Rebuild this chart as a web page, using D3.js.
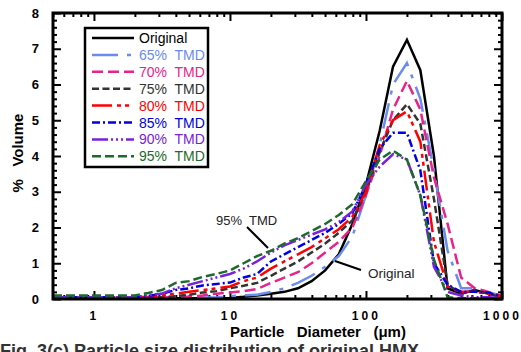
<!DOCTYPE html>
<html>
<head>
<meta charset="utf-8">
<script src="https://cdn.jsdelivr.net/npm/d3@7"></script>
<style>
  body { margin: 0; background: #fff; }
  text { font-family: "Liberation Sans", Arial, sans-serif; }
</style>
</head>
<body>
<script>
// particle size bins (um)
const diameters = [0.5, 0.63, 0.79, 1, 1.26, 1.58, 2, 2.51, 3.16, 3.98, 5.01, 6.31, 7.94,
  10, 12.6, 15.8, 20, 25.1, 31.6, 39.8, 50.1, 63.1, 79.4, 100, 126, 158, 200, 251, 316, 398,
  501, 631, 794, 1000]

const original = [0.02, 0.02, 0.02, 0.02, 0.02, 0.02, 0.02, 0.02, 0.02, 0.02, 0.02, 0.02, 0.02,
  0.03, 0.06, 0.1, 0.15, 0.2, 0.3, 0.5, 0.8, 1.25, 2.1, 3.2, 4.7, 6.5, 7.25, 6.4, 4.0, 0.3,
  0.15, 0.25, 0.15, 0.05]
const tmd65 = [0.04, 0.04, 0.04, 0.04, 0.04, 0.04, 0.04, 0.04, 0.04, 0.04, 0.04, 0.04, 0.04,
  0.08, 0.1, 0.12, 0.2, 0.3, 0.45, 0.65, 0.9, 1.2, 1.75, 2.9, 4.3, 6.0, 6.6, 5.6, 3.6, 1.35,
  0.3, 0.3, 0.2, 0.08]
const tmd70 = [0.05, 0.05, 0.05, 0.05, 0.05, 0.05, 0.05, 0.05, 0.05, 0.05, 0.07, 0.1, 0.15,
  0.18, 0.22, 0.28, 0.45, 0.6, 0.75, 1.0, 1.3, 1.6, 2.0, 2.9, 4.0, 5.3, 6.1, 5.3, 3.4, 2.1,
  0.6, 0.3, 0.2, 0.08]
const tmd75 = [0.05, 0.05, 0.05, 0.05, 0.05, 0.05, 0.05, 0.05, 0.05, 0.08, 0.12, 0.18, 0.22,
  0.3, 0.37, 0.45, 0.65, 0.85, 1.05, 1.3, 1.55, 1.85, 2.2, 3.0, 4.1, 5.0, 5.45, 4.9, 2.8, 0.4,
  0.15, 0.25, 0.15, 0.05]
const tmd80 = [0.05, 0.05, 0.05, 0.05, 0.05, 0.05, 0.05, 0.06, 0.1, 0.15, 0.2, 0.25, 0.3,
  0.35, 0.5, 0.6, 0.85, 1.05, 1.25, 1.45, 1.7, 1.95, 2.3, 3.0, 4.3, 5.0, 5.25, 4.4, 1.6, 0.35,
  0.2, 0.2, 0.15, 0.08]
const tmd85 = [0.05, 0.05, 0.05, 0.05, 0.05, 0.05, 0.05, 0.08, 0.15, 0.25, 0.3, 0.38, 0.42,
  0.46, 0.6, 0.7, 1.05, 1.25, 1.45, 1.65, 1.85, 2.1, 2.4, 3.2, 4.2, 4.65, 4.65, 3.6, 1.0, 0.4,
  0.2, 0.2, 0.18, 0.08]
const tmd90 = [0.05, 0.05, 0.05, 0.05, 0.05, 0.05, 0.05, 0.1, 0.15, 0.3, 0.4, 0.5, 0.6,
  0.7, 0.85, 1.05, 1.3, 1.5, 1.65, 1.8, 1.95, 2.15, 2.45, 3.2, 3.7, 4.05, 3.9, 2.9, 0.9, 0.2,
  0.1, 0.05, 0.05, 0.03]
const tmd95 = [0.1, 0.1, 0.1, 0.1, 0.1, 0.1, 0.1, 0.17, 0.25, 0.45, 0.5, 0.62, 0.7,
  0.8, 1.0, 1.2, 1.35, 1.55, 1.7, 1.9, 2.1, 2.35, 2.65, 3.3, 3.9, 4.15, 3.9, 2.9, 1.1, 0.05,
  0.02, 0.02, 0.02, 0.02]

const seriesNames = ['Original', '65%  TMD', '70%  TMD', '75%  TMD', '80%  TMD', '85%  TMD', '90%  TMD', '95%  TMD']
const seriesValues = [original, tmd65, tmd70, tmd75, tmd80, tmd85, tmd90, tmd95]

const xTicks = [1, 10, 100, 1000]
const yTicks = [0, 1, 2, 3, 4, 5, 6, 7, 8]

// styles
const colors = ['#000000', '#6a8cf0', '#e8238c', '#333333', '#ff0000', '#0000e0', '#7a22d8', '#1d6a2c']
const dashes = ['none', '26,9,4,9', '11,5', '7,3.5', '20,5,4,4,4,5', '8,3,2,3', '16,3,2,3,2,3,2,3', '9,4']

const plotLeft = 53, plotRight = 502, plotTop = 13, plotBottom = 299

const svg = d3.select('body').append('svg')
  .attr('width', 521)
  .attr('height', 352)

const x = d3.scaleLog().domain([0.5, 1000]).range([plotLeft, plotRight])
const y = d3.scaleLinear().domain([0, 8]).range([plotBottom, plotTop])

// minor tick values
const xMinor = []
for (const dec of [0.1, 1, 10, 100]) {
  for (let m = 2; m <= 9; m++) {
    const v = dec * m
    if (v >= 0.5 && v < 1000) xMinor.push(v)
  }
}
const yMinor = d3.range(0, 8.01, 0.2).filter(v => Math.abs(v - Math.round(v)) > 0.01)

function tickAxis(axisFn, scale, values, size, transform) {
  const g = svg.append('g')
    .attr('transform', transform)
    .call(axisFn(scale).tickValues(values).tickSizeInner(size).tickSizeOuter(0).tickFormat(''))
  g.select('.domain').remove()
  g.selectAll('line').attr('stroke', '#000').attr('stroke-width', 2)
  return g
}

// inward ticks on all four sides
tickAxis(d3.axisBottom, x, xTicks, -8, `translate(0,${plotBottom})`)
tickAxis(d3.axisBottom, x, xMinor, -4, `translate(0,${plotBottom})`)
tickAxis(d3.axisTop, x, xTicks, -8, `translate(0,${plotTop})`)
tickAxis(d3.axisTop, x, xMinor, -4, `translate(0,${plotTop})`)
tickAxis(d3.axisLeft, y, yTicks, -8, `translate(${plotLeft},0)`)
tickAxis(d3.axisLeft, y, yMinor, -4, `translate(${plotLeft},0)`)
tickAxis(d3.axisRight, y, yTicks, -8, `translate(${plotRight},0)`)
tickAxis(d3.axisRight, y, yMinor, -4, `translate(${plotRight},0)`)

// tick labels (spaced digits like the original)
svg.append('g').selectAll('text')
  .data(xTicks)
  .join('text')
  .attr('x', d => x(d) + 0.5)
  .attr('y', 320)
  .attr('text-anchor', 'middle')
  .attr('font-size', 12)
  .attr('font-weight', 'bold')
  .attr('letter-spacing', 3.1)
  .text(d => d)

svg.append('g').selectAll('text')
  .data(yTicks)
  .join('text')
  .attr('x', 39)
  .attr('y', d => y(d) + 4.5)
  .attr('text-anchor', 'end')
  .attr('font-size', 13)
  .attr('font-weight', 'bold')
  .text(d => d)

// lines
const line = d3.line()
  .x((d, i) => x(diameters[i]))
  .y(d => y(d))

svg.append('g').selectAll('path')
  .data(seriesValues)
  .join('path')
  .attr('d', d => line(d))
  .attr('fill', 'none')
  .attr('stroke', (d, i) => colors[i])
  .attr('stroke-width', 2.5)
  .attr('stroke-dasharray', (d, i) => dashes[i])

// frame
svg.append('rect')
  .attr('x', plotLeft)
  .attr('y', plotTop)
  .attr('width', plotRight - plotLeft)
  .attr('height', plotBottom - plotTop)
  .attr('fill', 'none')
  .attr('stroke', '#000')
  .attr('stroke-width', 3)

// legend
const legend = svg.append('g')
legend.append('rect')
  .attr('x', 85).attr('y', 28)
  .attr('width', 123).attr('height', 139)
  .attr('fill', '#fff')
  .attr('stroke', '#000')
  .attr('stroke-width', 2.5)

seriesNames.forEach((name, i) => {
  const ly = 38 + i * 16.9
  legend.append('line')
    .attr('x1', 92).attr('x2', 134)
    .attr('y1', ly).attr('y2', ly)
    .attr('stroke', colors[i])
    .attr('stroke-width', 2.5)
    .attr('stroke-dasharray', dashes[i])
  legend.append('text')
    .attr('x', 139)
    .attr('y', ly + 5)
    .attr('font-size', 14)
    .attr('fill', colors[i])
    .style('white-space', 'pre')
    .text(name)
})

// annotations
svg.append('text')
  .attr('x', 216).attr('y', 225)
  .attr('font-size', 13)
  .attr('fill', '#222')
  .style('white-space', 'pre')
  .text('95%  TMD')
svg.append('line')
  .attr('x1', 247).attr('y1', 227).attr('x2', 268).attr('y2', 248)
  .attr('stroke', '#000').attr('stroke-width', 2)

svg.append('text')
  .attr('x', 368).attr('y', 278)
  .attr('font-size', 13.5)
  .attr('fill', '#222')
  .text('Original')
svg.append('line')
  .attr('x1', 335).attr('y1', 261).attr('x2', 361).attr('y2', 270)
  .attr('stroke', '#000').attr('stroke-width', 2)

// axis titles
svg.append('text')
  .attr('x', 318).attr('y', 337)
  .attr('text-anchor', 'middle')
  .attr('font-size', 15)
  .attr('font-weight', 'bold')
  .style('white-space', 'pre')
  .text('Particle   Diameter   (\u03bcm)')

svg.append('text')
  .attr('transform', 'translate(23,153) rotate(-90)')
  .attr('text-anchor', 'middle')
  .attr('font-size', 15)
  .attr('font-weight', 'bold')
  .style('white-space', 'pre')
  .text('%   Volume')

// caption, cut off by the picture edge as in the source
svg.append('text')
  .attr('x', 0).attr('y', 357)
  .attr('font-family', 'Liberation Serif, serif')
  .attr('font-size', 18)
  .attr('font-weight', 'bold')
  .attr('fill', '#333')
  .text('Fig. 3(c) Particle size distribution of original HMX')
</script>
</body>
</html>
